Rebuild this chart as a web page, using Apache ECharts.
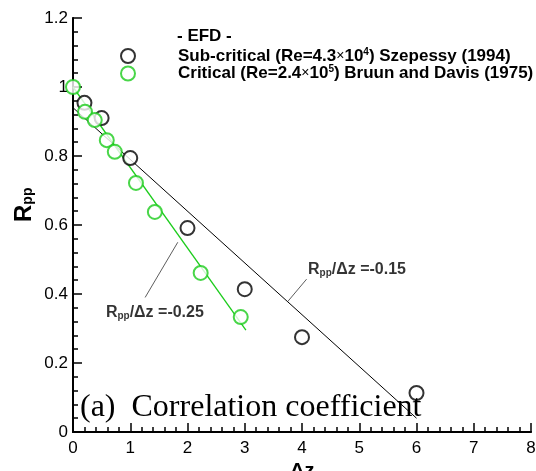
<!DOCTYPE html>
<html><head><meta charset="utf-8">
<script src="https://cdn.jsdelivr.net/npm/echarts@6/dist/echarts.min.js"></script>
<style>html,body{margin:0;padding:0;background:#fff}#c{width:536px;height:471px}</style>
</head><body><div id="c"></div>
<script>
// Data (Δz, R_pp)
var subCritical = [[0.2,0.954],[0.5,0.91],[1.0,0.794],[2.0,0.591],[3.0,0.414],[4.0,0.275],[6.0,0.113]];
var critical = [[0.0,1.0],[0.21,0.928],[0.38,0.904],[0.59,0.846],[0.73,0.812],[1.10,0.722],[1.43,0.638],[2.23,0.461],[2.93,0.333]];
var fitSub = [[0,0.94],[6,0.04]];
var fitCrit = [[0,1.0],[3.02,0.295]];
var leaderCrit = [[1.26,0.39],[1.83,0.55]];
var leaderSub = [[4.08,0.443],[3.75,0.378]];
var labelCrit = [1.43,0.345];
var labelSub = [4.96,0.47];
var xTicks = {min:0,max:8,interval:1};
var yTicks = {min:0,max:1.2,interval:0.2};

var chart = echarts.init(document.getElementById('c'));
var F = 'Liberation Sans, Arial, sans-serif';
var annRich = {
  b:{fontFamily:F,fontWeight:'bold',fontSize:16,color:'#000'},
  s:{fontFamily:F,fontWeight:'bold',fontSize:10,color:'#000',padding:[0,0,-6,0]}
};
var legRich = {
  b:{fontFamily:F,fontWeight:'bold',fontSize:17,color:'#000',lineHeight:19},
  x:{fontFamily:F,fontSize:14,color:'#000',lineHeight:19},
  sup:{fontFamily:F,fontWeight:'bold',fontSize:10,color:'#000',padding:[0,0,8,0]}
};
var GREEN = '#1ccc1c';

chart.setOption({
  animation:false,
  grid:{left:73,right:5,top:18,bottom:39,outerBoundsMode:'none'},
  legend:{
    orient:'vertical',left:115,top:42,itemWidth:14,itemHeight:14,itemGap:0,
    icon:'emptyCircle',
    data:['sub','crit'],
    formatter:function(n){
      if(n==='sub') return '{b|Sub-critical (Re=4.3}{x|×}{b|10}{sup|4}{b|) Szepessy (1994)}';
      return '{b|Critical (Re=2.4}{x|×}{b|10}{sup|5}{b|) Bruun and Davis (1975)}';
    },
    textStyle:{rich:legRich,padding:[0,0,0,38]}
  },
  graphic:[
    {type:'text',left:177,top:28,style:{text:'- EFD -',font:'bold 17px '+F,fill:'#000'}},
    {type:'text',left:80,top:392,z:100,style:{text:'(a)  Correlation coefficient',font:'32px Liberation Serif, Times New Roman, serif',fill:'#000'}},
    {type:'text',left:290,top:461,style:{text:'Δz',font:'bold 20px '+F,fill:'#000'}},
    {type:'text',x:12,y:222,rotation:Math.PI/2,
      style:{text:'{r|R}{s|pp}',rich:{r:{fontFamily:F,fontWeight:'bold',fontSize:24,fill:'#000'},s:{fontFamily:F,fontWeight:'bold',fontSize:14,fill:'#000',padding:[0,0,-8,0]}}}}
  ],
  xAxis:[{type:'value',min:xTicks.min,max:xTicks.max,interval:xTicks.interval,
    axisLine:{show:true,lineStyle:{color:'#000',width:2}},
    axisTick:{show:true,inside:true,length:9,lineStyle:{color:'#000',width:1.5}},
    minorTick:{show:true,splitNumber:5,length:5,lineStyle:{color:'#000',width:1.5}},
    splitLine:{show:false},
    axisLabel:{fontSize:17,color:'#000',fontFamily:F,margin:8}},
    {type:'value',position:'top',min:xTicks.min,max:xTicks.max,interval:xTicks.interval,
     axisLine:{show:true,lineStyle:{color:'#000',width:1.5}},axisTick:{show:false},axisLabel:{show:false},splitLine:{show:false}}],
  yAxis:[{type:'value',min:yTicks.min,max:yTicks.max,interval:yTicks.interval,
    axisLine:{show:true,lineStyle:{color:'#000',width:2}},
    axisTick:{show:true,inside:true,length:9,lineStyle:{color:'#000',width:1.5}},
    minorTick:{show:true,splitNumber:5,length:5,lineStyle:{color:'#000',width:1.5}},
    splitLine:{show:false},
    axisLabel:{fontSize:17,color:'#000',fontFamily:F,margin:5,
      formatter:function(v){return String(+v.toFixed(1));}}},
    {type:'value',position:'right',min:yTicks.min,max:yTicks.max,interval:yTicks.interval,
     axisLine:{show:true,lineStyle:{color:'#000',width:1.5}},axisTick:{show:false},axisLabel:{show:false},splitLine:{show:false}}],
  series:[
    {name:'fitSub',type:'line',data:fitSub,symbol:'none',lineStyle:{color:'#000',width:1},z:2},
    {name:'fitCrit',type:'line',data:fitCrit,symbol:'none',lineStyle:{color:GREEN,width:1.3},z:2},
    {name:'sub',type:'scatter',data:subCritical,symbol:'emptyCircle',symbolSize:14,
      itemStyle:{color:'#000',borderColor:'#000',borderWidth:1.1},z:3},
    {name:'crit',type:'scatter',data:critical,symbol:'emptyCircle',symbolSize:14,
      itemStyle:{color:GREEN,borderColor:GREEN,borderWidth:1.1},z:3},
    {name:'l1',type:'line',data:leaderCrit,symbol:'none',lineStyle:{color:'#333',width:0.8}},
    {name:'l2',type:'line',data:leaderSub,symbol:'none',lineStyle:{color:'#333',width:0.8}},
    {name:'t',type:'scatter',symbolSize:0,silent:true,
      data:[{value:labelCrit,lab:'-0.25'},{value:labelSub,lab:'-0.15'}],
      label:{show:true,position:'inside',formatter:function(p){return '{b|R}{s|pp}{b|/Δz =' + p.data.lab + '}';},rich:annRich}
    }
  ]
});
</script></body></html>
